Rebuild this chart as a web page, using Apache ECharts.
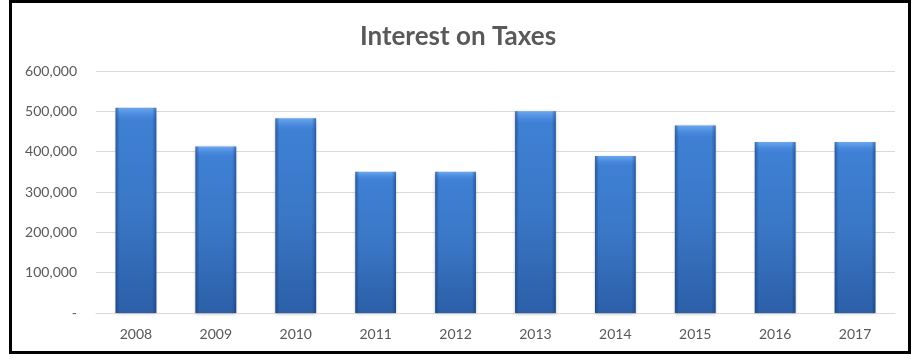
<!DOCTYPE html>
<html>
<head>
<meta charset="utf-8">
<script src="https://cdn.jsdelivr.net/npm/echarts@6/dist/echarts.min.js"></script>
<style>
html,body{margin:0;padding:0;background:#fff;}
#chart{width:916px;height:360px;}
</style>
</head>
<body>
<div id="chart"></div>
<script>
const categories = ['2008','2009','2010','2011','2012','2013','2014','2015','2016','2017'];
const values = [509000, 413000, 483000, 350000, 350000, 500000, 389000, 465000, 424000, 424000];
const yTicks = [0, 100000, 200000, 300000, 400000, 500000, 600000];
const titleText = 'Interest on Taxes';

const chart = echarts.init(document.getElementById('chart'), null, {renderer:'canvas'});
const fmt = v => v === 0 ? '-' : v.toLocaleString('en-US');
chart.setOption({
  backgroundColor: '#ffffff',
  animation: false,
  title: {
    text: titleText,
    left: 'center',
    top: 19,
    textStyle: {fontFamily: 'Lato', fontWeight: 'bold', fontSize: 26, color: '#595959'}
  },
  graphic: [{
    type: 'rect',
    shape: {x: 10.5, y: 1.5, width: 899, height: 351},
    style: {fill: 'none', stroke: '#000', lineWidth: 3},
    silent: true, z: 100
  }],
  grid: {left: 96, right: 21, top: 71, bottom: 47},
  xAxis: {
    type: 'category',
    data: categories,
    axisTick: {show: false},
    axisLine: {show: true, lineStyle: {color: '#d9d9d9', width: 1}},
    axisLabel: {color: '#595959', fontSize: 14, fontFamily: 'Lato', margin: 14}
  },
  yAxis: {
    type: 'value',
    min: yTicks[0],
    max: yTicks[yTicks.length - 1],
    interval: 100000,
    axisLine: {show: false},
    axisTick: {show: false},
    splitLine: {lineStyle: {color: '#d9d9d9', width: 1}},
    axisLabel: {color: '#595959', fontSize: 14, fontFamily: 'Lato', margin: 19, formatter: fmt}
  },
  series: [{
    type: 'bar',
    data: values,
    barWidth: '51%',
    itemStyle: {
      color: new echarts.graphic.LinearGradient(0, 0, 0, 1, [
        {offset: 0, color: '#6aa6ec'},
        {offset: 0.035, color: '#4a8ade'},
        {offset: 0.06, color: '#3f80d4'},
        {offset: 0.5, color: '#3a77c6'},
        {offset: 1, color: '#2c5fa8'}
      ]),
      shadowColor: 'rgba(0,0,0,0.25)',
      shadowBlur: 3,
      shadowOffsetY: 1
    },
    z: 2
  }, {
    type: 'bar',
    data: values,
    barWidth: '51%',
    barGap: '-100%',
    silent: true,
    itemStyle: {
      color: new echarts.graphic.LinearGradient(0, 0, 1, 0, [
        {offset: 0, color: 'rgba(20,50,100,0.5)'},
        {offset: 0.1, color: 'rgba(20,50,100,0.0)'},
        {offset: 0.9, color: 'rgba(20,50,100,0.0)'},
        {offset: 1, color: 'rgba(20,50,100,0.5)'}
      ])
    },
    z: 3
  }]
});
</script>
</body>
</html>
